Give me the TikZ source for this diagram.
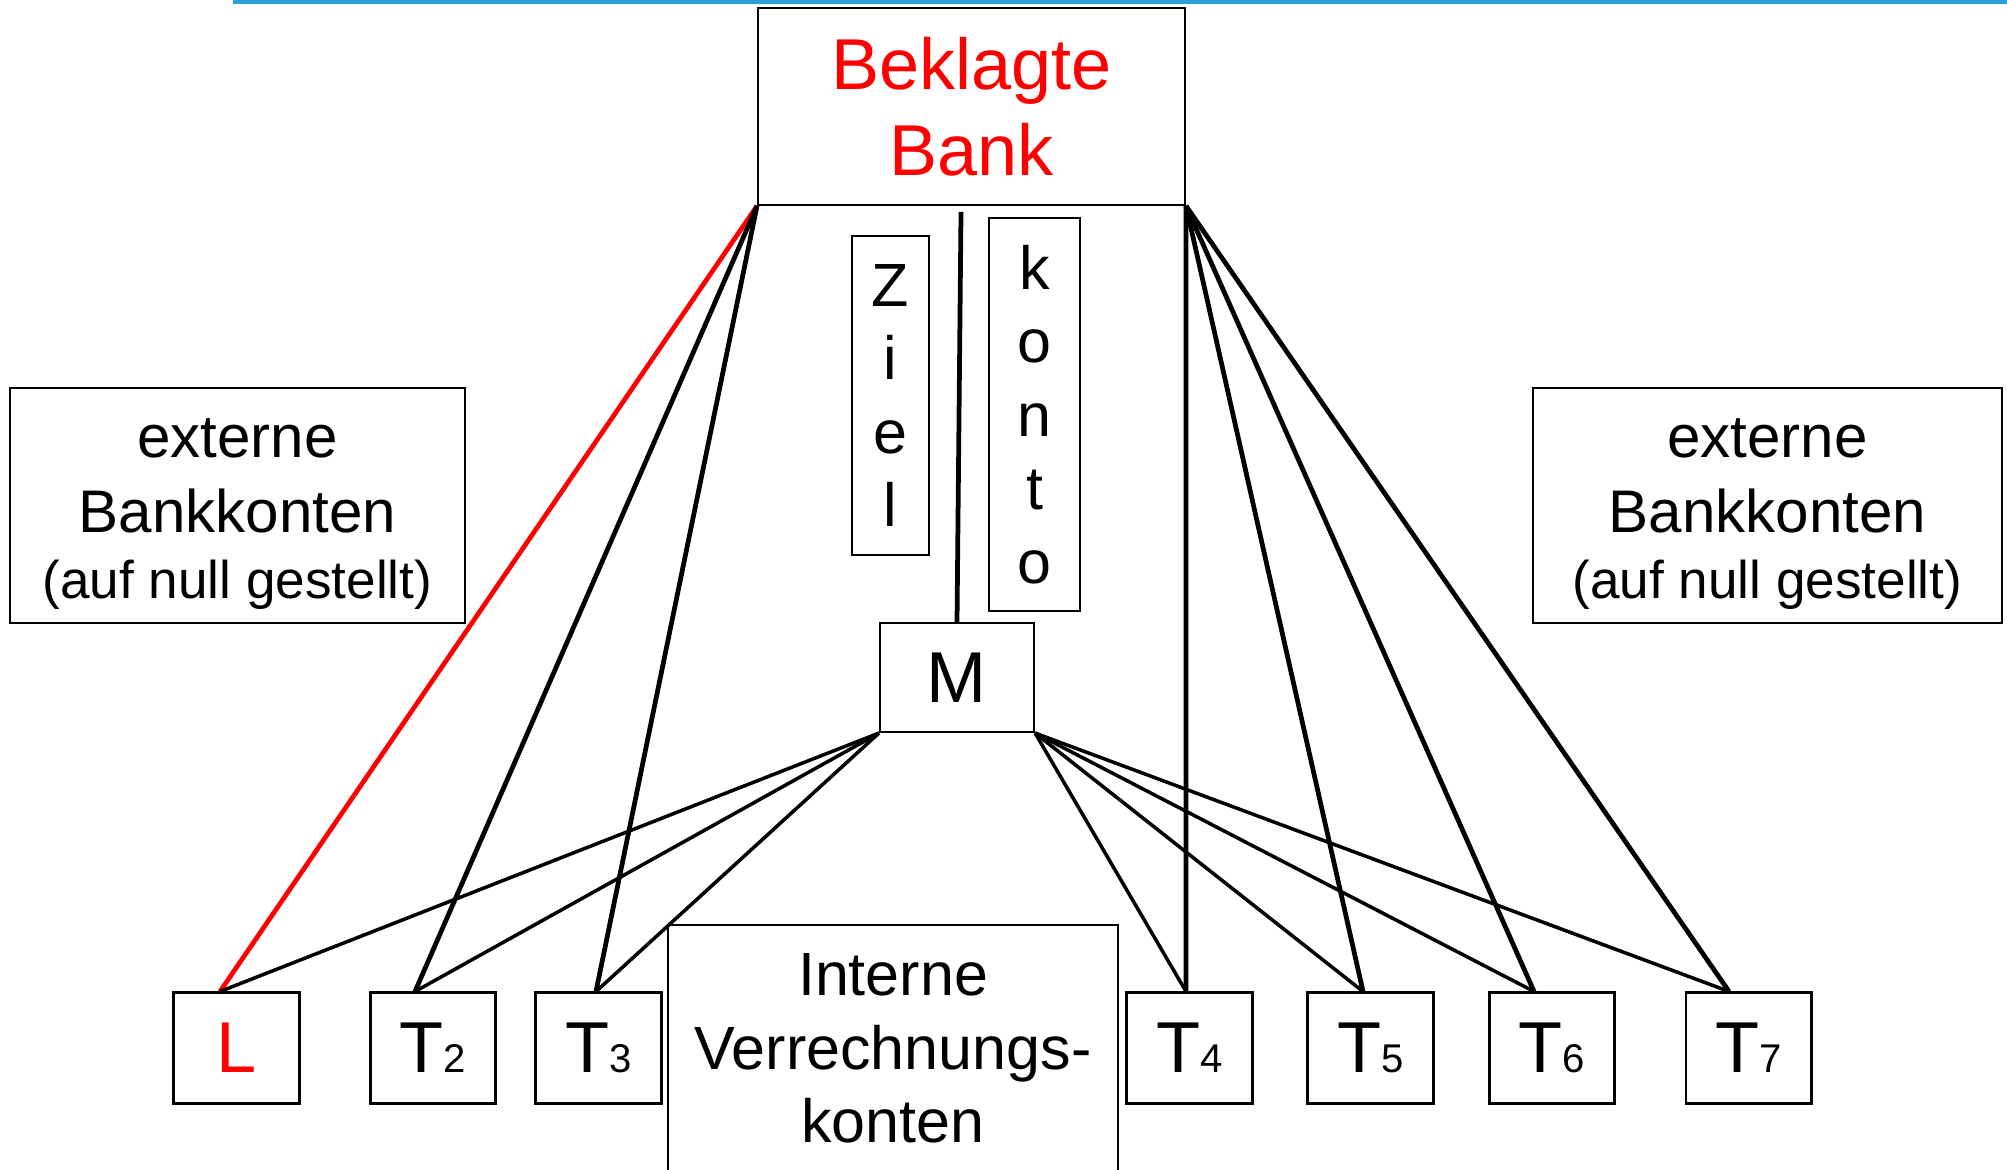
\documentclass[tikz,border=0pt]{standalone}
\usepackage{fontspec}
\setmainfont{Liberation Sans}
\usepackage{tikz}
\usetikzlibrary{calc}
\definecolor{topblue}{RGB}{41,160,218}
\newcommand{\bankfont}{\fontsize{20.5}{24.5}\selectfont}
\newcommand{\kontofont}{\fontsize{17.35}{20.9}\selectfont}
\newcommand{\extfont}{\fontsize{17.1}{21.3}\selectfont}
\newcommand{\gestelltfont}{\fontsize{15.1}{19.9}\selectfont}
\newcommand{\indexfont}{\fontsize{11.4}{13}\selectfont}
\newcommand{\tacc}[1]{T{\indexfont #1}}

\begin{document}
\begin{tikzpicture}[x=0.01cm,y=-0.01cm,
  acct/.style={draw,inner sep=0pt,align=center,line width=.6pt},
  sub/.style={acct,line width=.85pt,minimum width=1.25cm,minimum height=1.1cm,font=\bankfont},
  ext/.style={acct,minimum height=2.35cm,font=\extfont,text height=52.7pt,text depth=0pt},
  bankline/.style={line width=1.35pt},
  hubline/.style={line width=1pt}]
\useasboundingbox (0,0) rectangle (2007,1169);
\fill[topblue] (233,0) rectangle (2007,4);
%
\node[acct,line width=.5pt,minimum width=4.27cm,minimum height=1.97cm,
  text=red,font=\bankfont] (bank) at (971.5,106.5) {Beklagte\\Bank};
\node[acct,line width=.5pt,minimum width=.77cm,minimum height=3.19cm,
  font=\kontofont] (ziel) at (890.5,395.5) {Z\\i\\e\\l};
\node[acct,line width=.5pt,minimum width=.91cm,minimum height=3.93cm,
  font=\kontofont] (konto) at (1034.5,414.5) {k\\o\\n\\t\\o};
\node[acct,minimum width=1.54cm,minimum height=1.09cm,
  font=\bankfont] (M) at (957,677.5) {M};
%
\node[ext,minimum width=4.55cm] (extL) at (237.5,505.5)
  {externe\\Bankkonten\\[-2.5pt]{\gestelltfont (auf null gestellt)}};
\node[ext,minimum width=4.69cm] (extR) at (1767.5,505.5)
  {externe\\Bankkonten\\[-2.5pt]{\gestelltfont (auf null gestellt)}};
\node[acct,minimum width=4.5cm,minimum height=2.47cm,font=\kontofont]
  (intern) at (893,1048.5) {Interne\\Verrechnungs-\\konten};
%
\node[sub,text=red] (L) at (236.5,1048) {L};
\node[sub] (T2) at (433,1048) {\tacc{2}};
\node[sub] (T3) at (598.5,1048) {\tacc{3}};
\node[sub] (T4) at (1189.5,1048) {\tacc{4}};
\node[sub] (T5) at (1370.5,1048) {\tacc{5}};
\node[sub] (T6) at (1552,1048) {\tacc{6}};
\node[sub] (T7) at (1748.5,1048) {\tacc{7}};
%
\coordinate (Lt) at ($(L.north)+(-16.5,0)$);
\coordinate (T2t) at ($(T2.north)+(-18,0)$);
\coordinate (T3t) at ($(T3.north)+(-2.5,0)$);
\coordinate (T4t) at ($(T4.north)+(-3.5,0)$);
\coordinate (T5t) at ($(T5.north)+(-7.5,0)$);
\coordinate (T6t) at ($(T6.north)+(-18,0)$);
\coordinate (T7t) at ($(T7.north)+(-19.5,0)$);
\coordinate (ztop) at ($(bank.south)+(-10.5,6)$);
%
\draw[bankline,red] (bank.south west) -- (Lt);
\draw[bankline] (bank.south west) edge (T2t)
                (bank.south west) edge (T3t)
                (bank.south east) edge (T4t)
                (bank.south east) edge (T5t)
                (bank.south east) edge (T6t)
                (bank.south east) edge (T7t)
                (ztop) edge (M.north)
;
\draw[hubline] (M.south west) edge (Lt)
               (M.south west) edge (T2t)
               (M.south west) edge (T3t)
               (M.south east) edge (T4t)
               (M.south east) edge (T5t)
               (M.south east) edge (T6t)
               (M.south east) edge (T7t)
;
\end{tikzpicture}
\end{document}
